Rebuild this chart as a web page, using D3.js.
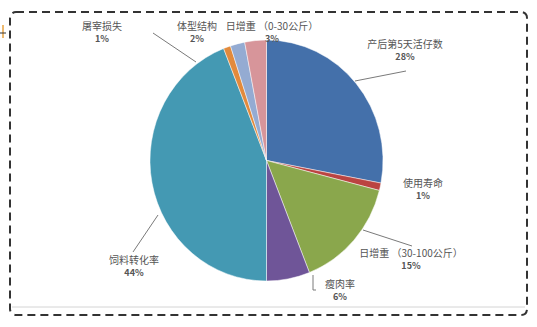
<!DOCTYPE html>
<html>
<head>
<meta charset="utf-8">
<script src="https://cdn.jsdelivr.net/npm/d3@7/dist/d3.min.js"></script>
<style>
  html, body { margin: 0; padding: 0; background: #fff; }
  svg { display: block; }
  text { font-family: "Noto Sans CJK SC", "Noto Sans", sans-serif; }
</style>
</head>
<body>
<svg id="chart" width="537" height="327"></svg>
<script>
// Factors and their share (percent), clockwise from 12 o'clock
const categories = [
  "产后第5天活仔数",
  "使用寿命",
  "日增重 （30-100公斤）",
  "瘦肉率",
  "饲料转化率",
  "屠宰损失",
  "体型结构",
  "日增重 （0-30公斤）"
];
const shares = [28, 1, 15, 6, 44, 1, 2, 3];
const sliceColors = ["#4470aa", "#bb4441", "#8aa74c", "#6f5598", "#4499b3", "#e28a3c", "#94abd2", "#d7959a"];

// Label anchor points and leader lines (layout only)
const labelPos = [
  { x: 405, y: 45, line: [[355, 81], [406, 71]] },
  { x: 423, y: 184 },
  { x: 411, y: 254, line: [[363, 230], [412, 246]] },
  { x: 340, y: 285, line: [[313, 275], [313, 290], [316, 290]] },
  { x: 134, y: 261, line: [[158, 215], [133, 252]] },
  { x: 102, y: 27, line: [[153, 33], [196, 62]] },
  { x: 197, y: 27 },
  { x: 272, y: 27 }
];

const svg = d3.select("#chart");

// Dashed outer frame
svg.append("rect")
  .attr("x", 10).attr("y", 12)
  .attr("width", 517).attr("height", 303)
  .attr("rx", 6).attr("ry", 6)
  .attr("fill", "none")
  .attr("stroke", "#333")
  .attr("stroke-width", 2)
  .attr("stroke-dasharray", "8,5");

// Light chart-area baseline
svg.append("line")
  .attr("x1", 12).attr("x2", 525)
  .attr("y1", 307).attr("y2", 307)
  .attr("stroke", "#d4d4d4").attr("stroke-width", 1);

// Small marker on the left edge
svg.append("line").attr("x1", 3).attr("x2", 3).attr("y1", 25).attr("y2", 38)
  .attr("stroke", "#e8a340").attr("stroke-width", 1.5);
svg.append("line").attr("x1", 0).attr("x2", 6).attr("y1", 33).attr("y2", 33)
  .attr("stroke", "#333").attr("stroke-width", 1);

const data = categories.map((c, i) => ({ name: c, value: shares[i], color: sliceColors[i] }));

const pie = d3.pie().value(d => d.value).sort(null);
const arc = d3.arc().innerRadius(0).outerRadius(120.5);

const g = svg.append("g")
  .attr("transform", "translate(266.5,160.5) scale(0.967,1)");

g.selectAll("path.slice")
  .data(pie(data))
  .join("path")
  .attr("class", "slice")
  .attr("d", arc)
  .attr("fill", d => d.data.color)
  .attr("stroke", "#fff")
  .attr("stroke-width", 0.5);

// Leader lines
const lineGen = d3.line();
labelPos.forEach(p => {
  if (p.line) {
    svg.append("path")
      .attr("d", lineGen(p.line))
      .attr("fill", "none")
      .attr("stroke", "#7a7a7a")
      .attr("stroke-width", 1);
  }
});

// Category and percent labels
const labels = svg.append("g");
data.forEach((d, i) => {
  const p = labelPos[i];
  labels.append("text")
    .attr("x", p.x).attr("y", p.y)
    .attr("text-anchor", "middle")
    .attr("dominant-baseline", "middle")
    .attr("font-size", 10)
    .attr("fill", "#555")
    .text(d.name);
  labels.append("text")
    .attr("x", p.x).attr("y", p.y + 13)
    .attr("text-anchor", "middle")
    .attr("dominant-baseline", "middle")
    .attr("font-size", 9)
    .attr("font-weight", "bold")
    .attr("fill", "#555")
    .text(d3.format(".0%")(d.value / 100));
});
</script>
</body>
</html>
